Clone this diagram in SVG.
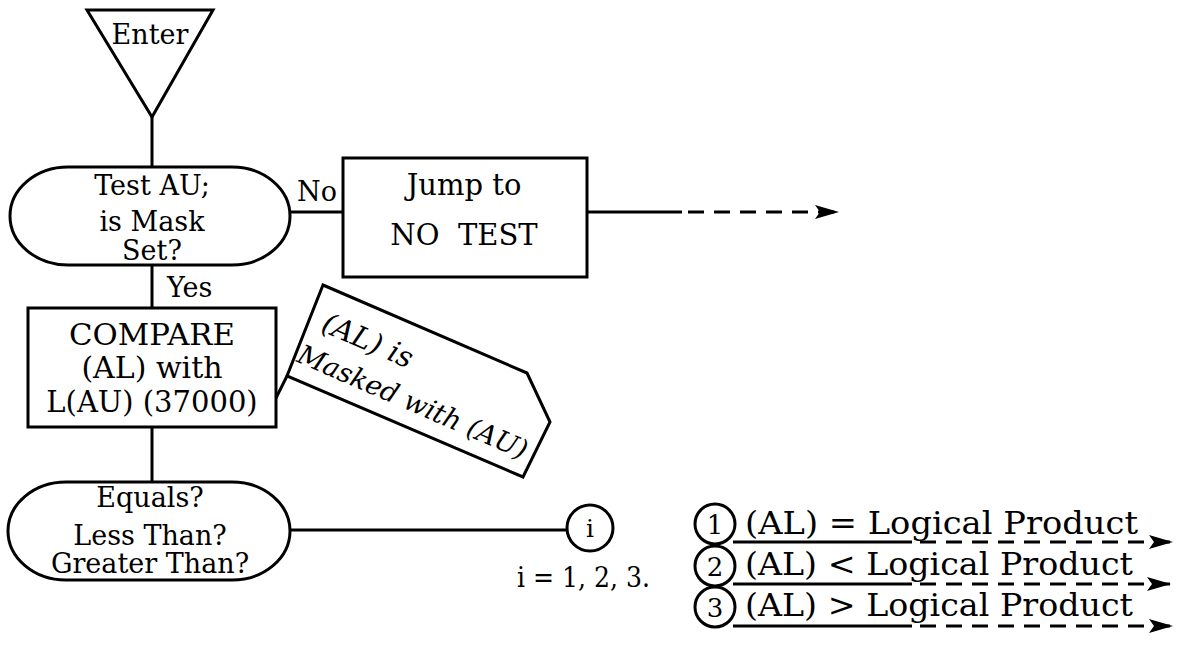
<svg xmlns="http://www.w3.org/2000/svg" width="1179" height="667" viewBox="0 0 1179 667">
<style>
.s{fill:none;stroke:#000;stroke-width:3}
.t{font-family:"DejaVu Serif","Liberation Serif",serif;font-size:27px;fill:#000;text-anchor:middle}
.l{text-anchor:start}
.c{fill:none;stroke:#000;stroke-width:3}
.d{fill:none;stroke:#000;stroke-width:3;stroke-dasharray:16 10}
.it{font-style:italic}
.g{font-size:31px}
</style>
<defs>
<marker id="ah" viewBox="0 0 24 16" refX="23" refY="8" markerWidth="24" markerHeight="16" markerUnits="userSpaceOnUse" orient="auto">
<path d="M0,1 L24,8 L0,15 L5,8 Z" fill="#000"/>
</marker>
</defs>
<g id="connectors">
<line class="c" x1="152" y1="117" x2="152" y2="167"/>
<line class="c" x1="290" y1="212" x2="343" y2="212"/>
<line class="c" x1="587" y1="212" x2="682" y2="212"/>
<line class="d" x1="688" y1="212" x2="838" y2="212" marker-end="url(#ah)"/>
<line class="c" x1="152" y1="265" x2="152" y2="308"/>
<line class="c" x1="152" y1="427" x2="152" y2="482"/>
<line class="c" x1="290" y1="530" x2="567" y2="530"/>
<line class="c" x1="287" y1="376" x2="276" y2="398"/>
<text class="t l" x="297" y="201">No</text>
<text class="t l" x="167" y="297">Yes</text>
</g>
<g id="enter">
<polygon class="s" points="87,10 213,10 152,117"/>
<text class="t" x="150" y="44">Enter</text>
</g>
<g id="test-au">
<rect class="s" x="10" y="167" width="280" height="98" rx="58" ry="49"/>
<text class="t" x="152" y="195">Test AU;</text>
<text class="t" x="152" y="231">is Mask</text>
<text class="t" x="152" y="260">Set?</text>
</g>
<g id="jump">
<rect class="s" x="343" y="158" width="244" height="119"/>
<text class="t" x="464" y="195" style="font-size:29px">Jump to</text>
<text class="t" x="464" y="245" style="font-size:29px" xml:space="preserve">NO  TEST</text>
</g>
<g id="compare">
<rect class="s" x="28" y="308" width="248" height="119"/>
<text class="t" x="152" y="345" style="font-size:30px" textLength="166" lengthAdjust="spacingAndGlyphs">COMPARE</text>
<text class="t" x="152" y="378" style="font-size:30px">(AL) with</text>
<text class="t" x="152" y="412" style="font-size:29px">L(AU) (37000)</text>
</g>
<g id="annotation">
<polygon class="s" points="323,285 527,373 550,422 523,477 287,376"/>
<g transform="translate(323,285) rotate(23.4)">
<text class="t l it" x="15" y="43" style="font-size:29px">(AL) is</text>
<text class="t l it" x="5" y="81" style="font-size:27px">Masked with (AU)</text>
</g>
</g>
<g id="equals">
<rect class="s" x="8" y="482" width="282" height="98" rx="58" ry="49"/>
<text class="t" x="150" y="507">Equals?</text>
<text class="t" x="150" y="545">Less Than?</text>
<text class="t" x="150" y="573">Greater Than?</text>
</g>
<g id="connector-i">
<circle class="s" cx="590" cy="528" r="23"/>
<text class="t" x="590" y="537" style="font-size:25px">i</text>
<text class="t l" x="517" y="587" textLength="133" lengthAdjust="spacingAndGlyphs">i = 1, 2, 3.</text>
</g>
<g id="legend">
<g id="out1">
<circle class="s" cx="715" cy="524" r="20"/>
<text class="t" x="715" y="534" style="font-size:26px">1</text>
<text class="t l g" x="745" y="534" textLength="393" lengthAdjust="spacingAndGlyphs">(AL) = Logical Product</text>
<line class="c" x1="733" y1="542" x2="912" y2="542"/>
<line class="d" x1="920" y1="542" x2="1172" y2="542" marker-end="url(#ah)"/>
</g>
<g id="out2">
<circle class="s" cx="715" cy="566" r="20"/>
<text class="t" x="715" y="576" style="font-size:26px">2</text>
<text class="t l g" x="745" y="575" textLength="388" lengthAdjust="spacingAndGlyphs">(AL) &lt; Logical Product</text>
<line class="c" x1="733" y1="584" x2="912" y2="584"/>
<line class="d" x1="920" y1="584" x2="1170" y2="584" marker-end="url(#ah)"/>
</g>
<g id="out3">
<circle class="s" cx="715" cy="607" r="20"/>
<text class="t" x="715" y="617" style="font-size:26px">3</text>
<text class="t l g" x="745" y="616" textLength="388" lengthAdjust="spacingAndGlyphs">(AL) &gt; Logical Product</text>
<line class="c" x1="733" y1="626" x2="912" y2="626"/>
<line class="d" x1="920" y1="626" x2="1172" y2="626" marker-end="url(#ah)"/>
</g>
</g>
</svg>
